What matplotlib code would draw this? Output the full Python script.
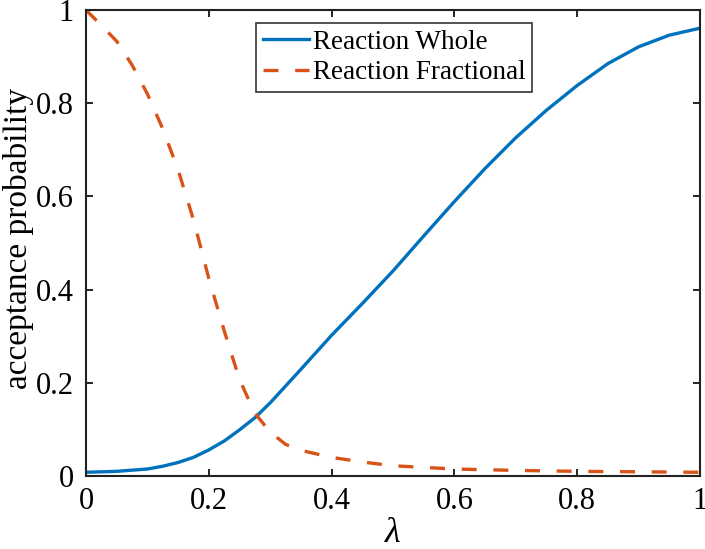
import matplotlib
matplotlib.use("Agg")
import matplotlib.pyplot as plt

# Data
lam_whole = [0.0, 0.05, 0.1, 0.125, 0.15, 0.175, 0.2, 0.225, 0.25, 0.275, 0.3, 0.35, 0.4, 0.45, 0.5,
             0.55, 0.6, 0.65, 0.7, 0.75, 0.8, 0.85, 0.9, 0.95, 1.0]
p_whole = [0.008, 0.010, 0.015, 0.021, 0.029, 0.04, 0.056, 0.075, 0.099, 0.125, 0.157, 0.229, 0.302, 0.37, 0.44,
           0.515, 0.589, 0.66, 0.726, 0.785, 0.838, 0.885, 0.921, 0.946, 0.961]

lam_frac = [0.0, 0.025, 0.05, 0.075, 0.1, 0.125, 0.15, 0.175, 0.2, 0.225, 0.25,
            0.275, 0.3, 0.325, 0.35, 0.4, 0.45, 0.5, 0.6, 0.7, 0.8, 0.9, 1.0]
p_frac = [1.0, 0.967, 0.933, 0.882, 0.82, 0.745, 0.657, 0.55, 0.424, 0.312, 0.207,
          0.135, 0.094, 0.068, 0.055, 0.04, 0.03, 0.022, 0.015, 0.012, 0.010, 0.009, 0.008]

xticks = [0, 0.2, 0.4, 0.6, 0.8, 1]
yticks = [0, 0.2, 0.4, 0.6, 0.8, 1]
xtick_labels = ["0", "0.2", "0.4", "0.6", "0.8", "1"]
ytick_labels = ["0", "0.2", "0.4", "0.6", "0.8", "1"]

plt.rcParams['font.family'] = ['Liberation Serif', 'DejaVu Serif']

fig = plt.figure(figsize=(7.05, 5.49), dpi=100)
ax = fig.add_axes([86/705, (549-476)/549, (700-86)/705, (476-10)/549])

blue = '#0072BD'
orange = '#D95319'
ax.plot(lam_whole, p_whole, color=blue, lw=2.4, label='Reaction Whole')
ax.plot(lam_frac, p_frac, color=orange, lw=2.4, dashes=(4.5, 5), label='Reaction Fractional')

ax.set_xlim(0, 1)
ax.set_ylim(0, 1)
ax.set_xticks(xticks)
ax.set_xticklabels(xtick_labels)
ax.set_yticks(yticks)
ax.set_yticklabels(ytick_labels)
ax.tick_params(direction='in', length=5, width=1.2, labelsize=22, top=True, right=True,
               pad=8, colors='black')
ax.tick_params(axis='y', pad=9)
for s in ax.spines.values():
    s.set_linewidth(1.5)
    s.set_color('#222222')

ax.set_xlabel('λ', fontsize=26, style='italic')
ax.xaxis.set_label_coords(0.5, -0.088)
ax.xaxis.label.set_va('top')
ax.set_ylabel('acceptance probability', fontsize=24)
ax.yaxis.set_label_coords((34 - 86) / 614, 0.51)

leg = ax.legend(loc='upper left', bbox_to_anchor=((256-86)/614, (476-23)/466),
                fontsize=19.5, frameon=True, fancybox=False, edgecolor='black',
                handlelength=1.7, handletextpad=0.15, borderpad=0.25,
                labelspacing=0.2, borderaxespad=0)
leg.get_frame().set_linewidth(1.2)

fig.savefig('out.png', dpi=100)
